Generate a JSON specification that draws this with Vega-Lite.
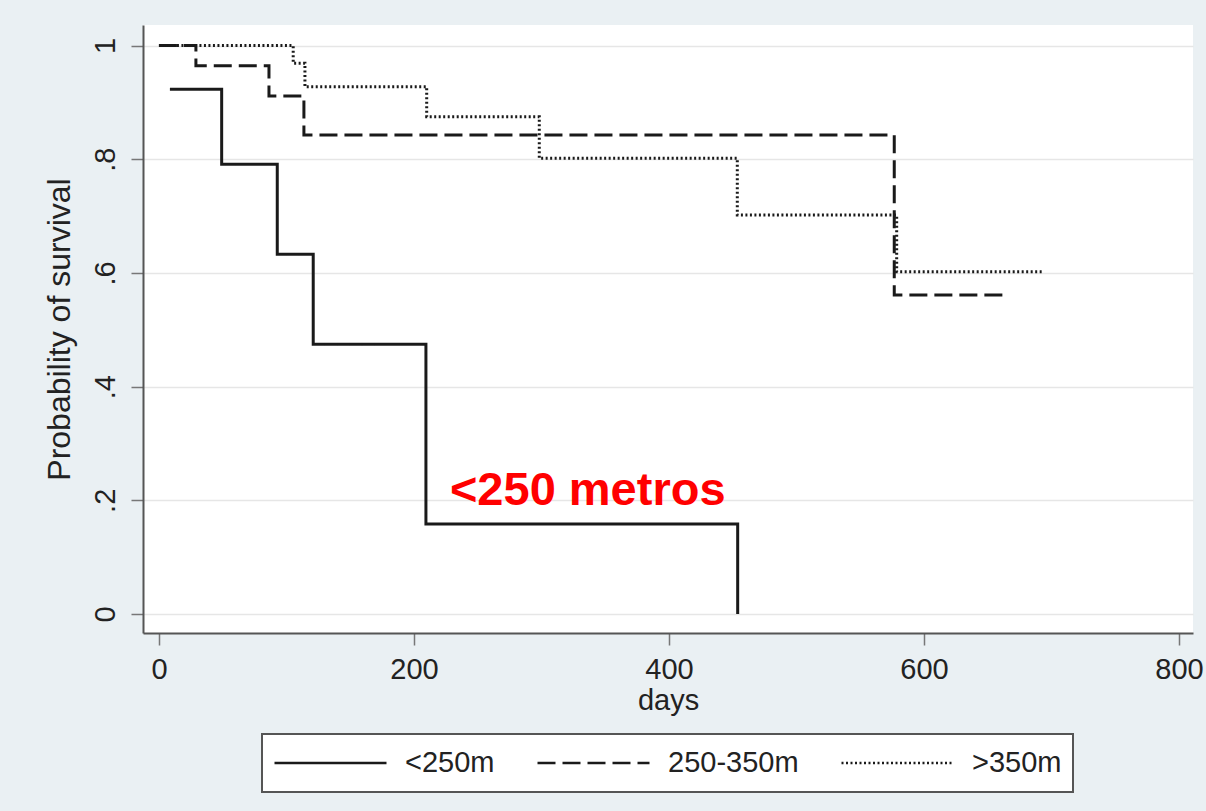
{
  "$schema": "https://vega.github.io/schema/vega-lite/v6.json",
  "width": 1050,
  "height": 608,
  "autosize": {"type": "none"},
  "padding": {"left": 143, "top": 25, "right": 13, "bottom": 178},
  "background": "#eaf0f3",
  "config": {
    "view": {"fill": "white", "stroke": null},
    "font": "Liberation Sans",
    "axis": {
      "labelFont": "Liberation Sans",
      "titleFont": "Liberation Sans",
      "labelFontSize": 29,
      "titleFontSize": 29,
      "labelColor": "#222222",
      "titleColor": "#222222",
      "titleFontWeight": "normal",
      "domainColor": "#555555",
      "domainWidth": 2,
      "tickColor": "#777777",
      "tickWidth": 1.5,
      "tickSize": 12,
      "gridColor": "#e6e6e6",
      "gridWidth": 1.5
    },
    "legend": {"strokeWidth": 2}
  },
  "datasets": {
    "km": [
      {"group": "<250m", "days": 8.6, "surv": 0.9231},
      {"group": "<250m", "days": 49.2, "surv": 0.7912},
      {"group": "<250m", "days": 92.8, "surv": 0.633},
      {"group": "<250m", "days": 121, "surv": 0.4747},
      {"group": "<250m", "days": 209.4, "surv": 0.1582},
      {"group": "<250m", "days": 453.9, "surv": 0},
      {"group": "250-350m", "days": 0, "surv": 1},
      {"group": "250-350m", "days": 29, "surv": 0.9645},
      {"group": "250-350m", "days": 86.3, "surv": 0.911},
      {"group": "250-350m", "days": 113.7, "surv": 0.8426},
      {"group": "250-350m", "days": 576.7, "surv": 0.561},
      {"group": "250-350m", "days": 665.9, "surv": 0.561},
      {"group": ">350m", "days": 0, "surv": 1},
      {"group": ">350m", "days": 105.3, "surv": 0.9687},
      {"group": ">350m", "days": 114.5, "surv": 0.9275},
      {"group": ">350m", "days": 210, "surv": 0.8747},
      {"group": ">350m", "days": 298.3, "surv": 0.8016},
      {"group": ">350m", "days": 453.6, "surv": 0.7018},
      {"group": ">350m", "days": 578.6, "surv": 0.602},
      {"group": ">350m", "days": 692.3, "surv": 0.602}
    ],
    "note": [
      {"days": 228.2, "surv": 0.1916, "label": "<250 metros"}
    ]
  },
  "layer": [
    {
      "data": {"name": "km"},
      "mark": {"type": "line", "interpolate": "step-after", "color": "#1a1a1a", "strokeWidth": 3},
      "encoding": {
        "x": {
          "field": "days", "type": "quantitative",
          "scale": {"domain": [-12.5, 811], "nice": false, "zero": false},
          "axis": {"values": [0, 200, 400, 600, 800], "grid": false, "title": "days", "labelPadding": 10, "titlePadding": 2}
        },
        "y": {
          "field": "surv", "type": "quantitative",
          "scale": {"domain": [-0.0334, 1.0361], "nice": false, "zero": false},
          "axis": {
            "values": [0, 0.2, 0.4, 0.6, 0.8, 1],
            "labelExpr": "datum.value == 0 ? '0' : datum.value == 1 ? '1' : replace(format(datum.value, '.1f'), '0.', '.')",
            "labelAngle": -90,
            "labelAlign": "center",
            "labelBaseline": "middle",
            "labelPadding": 26,
            "title": "Probability of survival",
            "titleFontSize": 32,
            "titlePadding": 15
          }
        },
        "strokeDash": {
          "field": "group", "type": "nominal",
          "scale": {"domain": ["<250m", "250-350m", ">350m"], "range": [[1, 0], [18, 7], [2, 2.5]]},
          "legend": {
            "title": null,
            "orient": "none",
            "direction": "horizontal",
            "legendX": 119,
            "legendY": 709,
            "symbolType": "stroke",
            "symbolSize": 12544,
            "symbolStrokeWidth": 2.5,
            "symbolStrokeColor": "#1a1a1a",
            "clipHeight": 36,
            "labelOffset": 17,
            "columnPadding": 41,
            "padding": 11,
            "fillColor": "white",
            "strokeColor": "#555555",
            "labelFont": "Liberation Sans",
            "labelFontSize": 29,
            "labelColor": "#222222"
          }
        }
      }
    },
    {
      "data": {"name": "note"},
      "mark": {"type": "text", "align": "left", "baseline": "alphabetic", "font": "Liberation Sans", "fontWeight": "bold", "fontSize": 47, "color": "#ff0000"},
      "encoding": {
        "x": {"field": "days", "type": "quantitative"},
        "y": {"field": "surv", "type": "quantitative"},
        "text": {"field": "label"}
      }
    }
  ]
}
